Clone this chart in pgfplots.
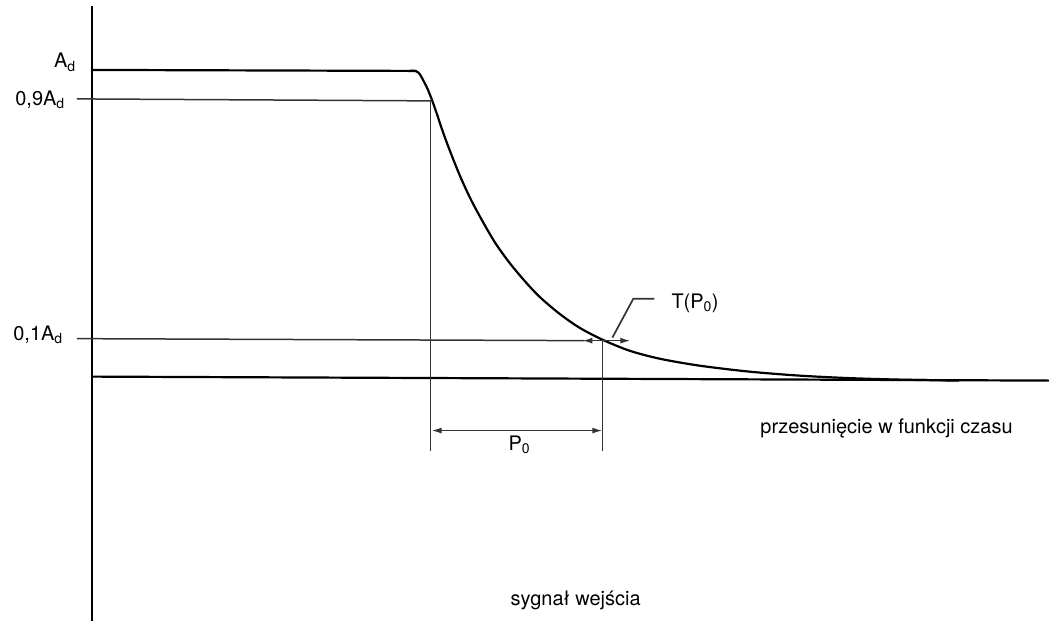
\documentclass[border=0pt]{standalone}
\usepackage{pgfplots}
\pgfplotsset{compat=1.18}
\usepackage{fontspec}
\setmainfont{TeX Gyre Heros}
\usetikzlibrary{arrows.meta}

% coordinates are pixel positions of the reference drawing (origin top left)
\pgfplotsset{
  thick line/.style={black, line width=2.2pt, no marks},
  thin line/.style={black!80, line width=1.5pt, no marks},
}
\tikzset{lbl/.style={inner sep=0pt, font=\fontsize{20}{24}\selectfont}}
\newcommand{\sub}[1]{\textsubscript{#1}}

\begin{document}
\begin{tikzpicture}
\begin{axis}[
  x=1pt, y=1pt,
  xmin=0, xmax=1050, ymin=0, ymax=622,
  y dir=reverse,
  hide axis, clip=false, scale only axis,
]
  % frame of the page
  \addplot[draw=none] coordinates {(0,0) (1050,622)};

  % vertical axis
  \addplot[thick line] coordinates {(92,6) (92,622)};

  % plateau at A_d
  \addplot[thick line] coordinates {(92,70) (416,71)};
  % decay towards the base line
  \addplot[thick line, smooth, tension=0.5] coordinates {
    (410,71) (416,71) (420,74) (424,81) (428,89) (432,99)
    (437,113) (443,131) (450,150) (460,175) (470,197) (480,216)
    (495,242) (510,263) (525,281) (540,297) (560,314) (580,328)
    (603,340) (630,351) (660,359) (700,366) (750,372) (800,376)
    (850,378.5) (900,380) (960,381)
  };

  % base line
  \addplot[thick line] coordinates {(92,377) (1050,381)};

  % levels 0,9 A_d and 0,1 A_d
  \addplot[thin line] coordinates {(77,99) (433,101)};
  \addplot[thin line] coordinates {(77,339) (585,341)};

  % verticals
  \addplot[thin line] coordinates {(431,101) (431,451)};
  \addplot[thin line] coordinates {(603,341) (603,451)};

  % P_0 dimension
  \addplot[thin line, {Latex[length=10pt,width=6pt]}-{Latex[length=10pt,width=6pt]}]
    coordinates {(432,431) (603,431)};

  % T(P_0) tolerance
  \addplot[thin line, {Latex[length=10pt,width=6pt]}-{Latex[length=10pt,width=6pt]}]
    coordinates {(583,341) (631,341)};
  \addplot[thin line, line width=1.7pt] coordinates {(613,338) (634,299) (655,299)};

  % labels
  \node[lbl, anchor=base east] at (axis cs:76,68) {A\sub{d}};
  \node[lbl, anchor=base east] at (axis cs:65,106) {0,9A\sub{d}};
  \node[lbl, anchor=base east] at (axis cs:63,341) {0,1A\sub{d}};
  \node[lbl, anchor=base west] at (axis cs:672,309) {T(P\sub{0})};
  \node[lbl, anchor=base] at (axis cs:520,451) {P\sub{0}};
  \node[lbl, anchor=base west] at (axis cs:761,434) {przesunięcie w funkcji czasu};
  \node[lbl, anchor=base west] at (axis cs:511,606) {sygnał wejścia};
\end{axis}
\end{tikzpicture}
\end{document}
